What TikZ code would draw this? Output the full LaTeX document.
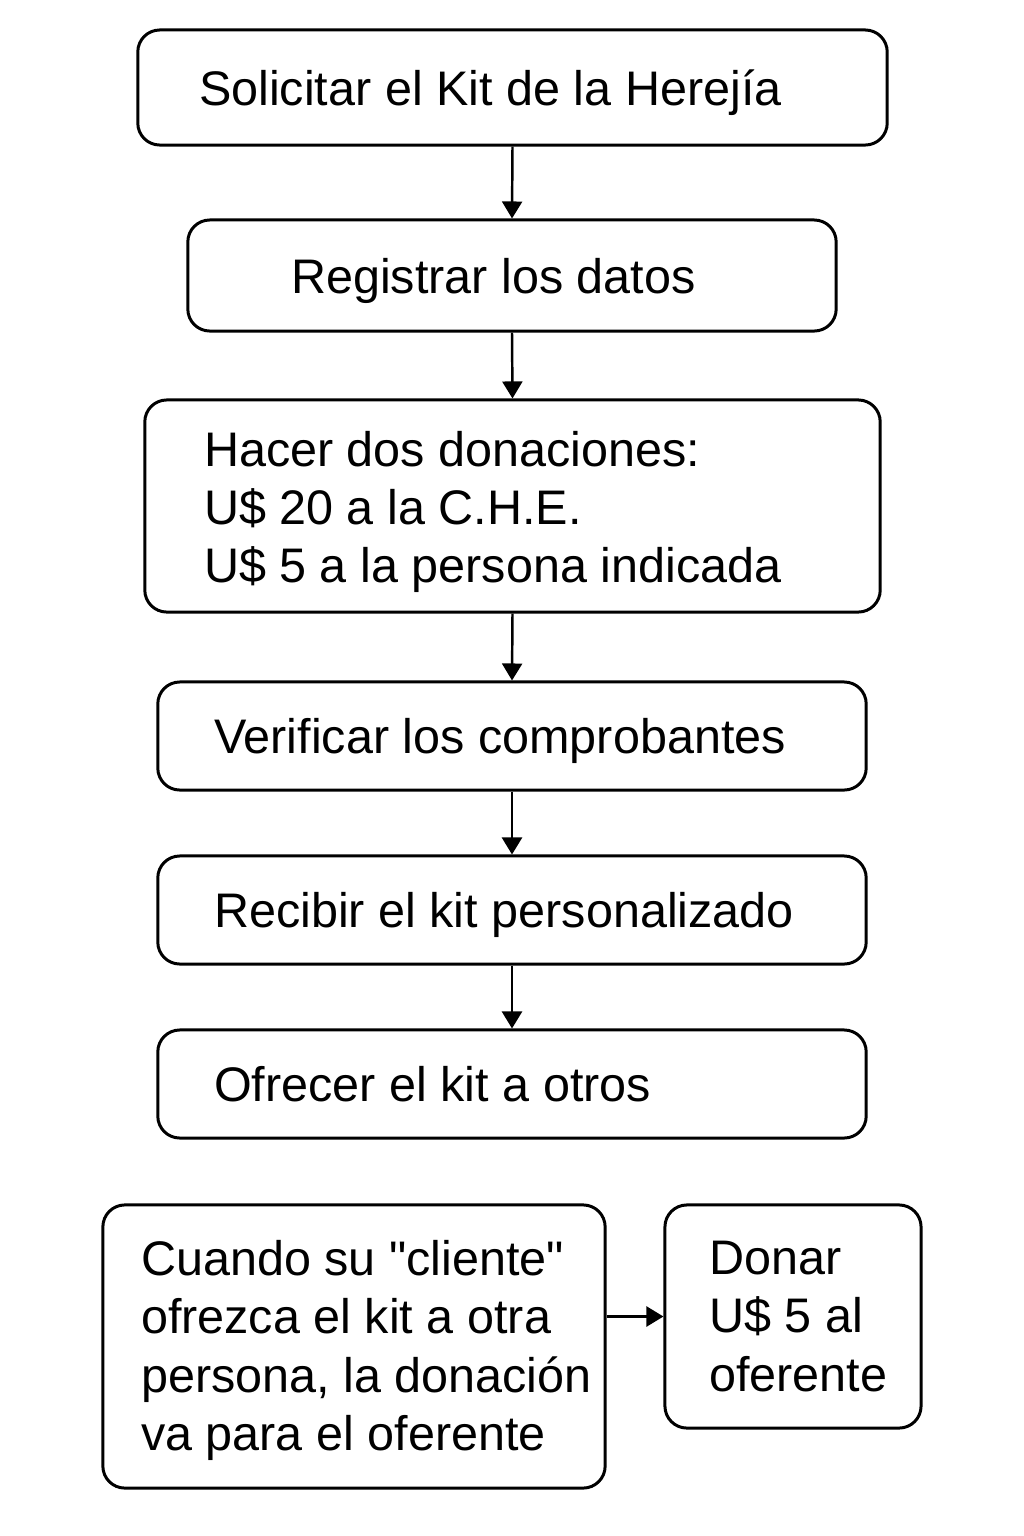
\documentclass[tikz,border=0pt]{standalone}
\usepackage{fontspec}
\setmainfont{Liberation Sans}
\usetikzlibrary{positioning, arrows.meta}

\begin{document}
\begin{tikzpicture}[x=0.01cm, y=-0.01cm, font=\fontsize{13.8}{16.6}\selectfont]
\tikzstyle{flow_box}=[draw, line width=0.85pt, rounded corners=0.22cm, inner sep=0]
\tikzstyle{box_text}=[inner sep=0, align=left, text height=0.35cm, text depth=0]
\tikzstyle{multi_text}=[inner sep=0, align=left]
\tikzstyle{flow_arrow}=[-{Triangle[length=0.17cm, width=0.2cm]}, line width=0.7pt]

\useasboundingbox (0,0) rectangle (1024,1536);

% main column
\node[flow_box, minimum width=7.49cm, minimum height=1.15cm] (solicitar) at (512.5,87.5) {};
\node[flow_box, minimum width=6.48cm, minimum height=1.11cm] (registrar) at (512,275.5) {};
\node[flow_box, minimum width=7.35cm, minimum height=2.12cm] (donaciones) at (512.5,506) {};
\node[flow_box, minimum width=7.08cm, minimum height=1.08cm] (verificar) at (512,736) {};
\node[flow_box, minimum width=7.08cm, minimum height=1.08cm] (recibir) at (512,910) {};
\node[flow_box, minimum width=7.08cm, minimum height=1.08cm] (ofrecer) at (512,1084) {};

% bottom pair
\node[flow_box, minimum width=5.02cm, minimum height=2.83cm] (cliente) at (354,1346.5) {};
\node[flow_box, minimum width=2.56cm, minimum height=2.23cm] (donar) at (793,1316.5) {};

% texts
\node[box_text, right=0.62cm of solicitar.west] (solicitar_txt) {Solicitar el Kit de la Herejía};
\node[box_text, right=1.04cm of registrar.west] (registrar_txt) {Registrar los datos};
\node[multi_text, right=0.60cm of donaciones.west, yshift=-0.06cm] (donaciones_txt) {Hacer dos donaciones:\\U\$ 20 a la C.H.E.\\U\$ 5 a la persona indicada};
\node[box_text, right=0.57cm of verificar.west] (verificar_txt) {Verificar los comprobantes};
\node[box_text, right=0.57cm of recibir.west] (recibir_txt) {Recibir el kit personalizado};
\node[box_text, right=0.57cm of ofrecer.west] (ofrecer_txt) {Ofrecer el kit a otros};
\node[multi_text, right=0.39cm of cliente.west, yshift=-0.04cm] (cliente_txt) {Cuando su \textquotedbl cliente\textquotedbl\\ofrezca el kit a otra\\persona, la donación\\va para el oferente};
\node[multi_text, right=0.45cm of donar.west] (donar_txt) {Donar\\U\$ 5 al\\oferente};

\path [flow_arrow] (solicitar.south) edge (registrar.north);
\path [flow_arrow] (registrar.south) edge (donaciones.north);
\path [flow_arrow] (donaciones.south) edge (verificar.north);
\path [flow_arrow] (verificar.south) edge (recibir.north);
\path [flow_arrow] (recibir.south) edge (ofrecer.north);
\path [flow_arrow] (cliente.east |- donar.west) edge (donar.west);

\end{tikzpicture}
\end{document}
